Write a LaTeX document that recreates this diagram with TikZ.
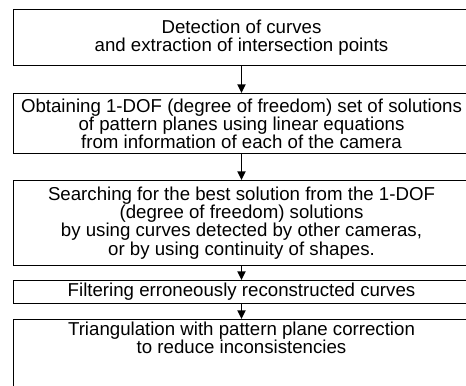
\documentclass[tikz,border=0pt]{standalone}
\usepackage{fontspec}
\setmainfont{Liberation Sans}
\usetikzlibrary{positioning,arrows.meta}

\begin{document}
\begin{tikzpicture}[font=\fontsize{14}{13.6}\selectfont,>={Triangle[length=6.5pt,width=6pt]},
  box/.style={draw,line width=0.75pt,align=center,minimum width=342pt,inner xsep=0pt,inner ysep=2pt}]
\useasboundingbox (0,0) rectangle (349.5pt,-288.75pt);
\node[box,minimum height=42pt,anchor=north west] (detect) at (9.75pt,-6.75pt) {Detection of curves\\and extraction of intersection points};
\node[box,minimum height=45pt,below=20.25pt of detect] (solve) {Obtaining 1-DOF (degree of freedom) set of solutions\\of pattern planes using linear equations\\from information of each of the camera};
\node[box,minimum height=63.75pt,below=19.5pt of solve] (search) {Searching for the best solution from the 1-DOF\\(degree of freedom) solutions\\by using curves detected by other cameras,\\or by using continuity of shapes.};
\node[box,minimum height=17.25pt,below=10.5pt of search] (filter) {Filtering erroneously reconstructed curves};
\node[box,text depth=45pt,below=11.25pt of filter] (triang) {Triangulation with pattern plane correction\\to reduce inconsistencies};
\draw[->,line width=1.3pt] (detect)--(solve);
\draw[->,line width=1.3pt] (solve)--(search);
\draw[->,line width=1.3pt] (search)--(filter);
\draw[->,line width=1.3pt] (filter)--(triang);
\end{tikzpicture}
\end{document}
